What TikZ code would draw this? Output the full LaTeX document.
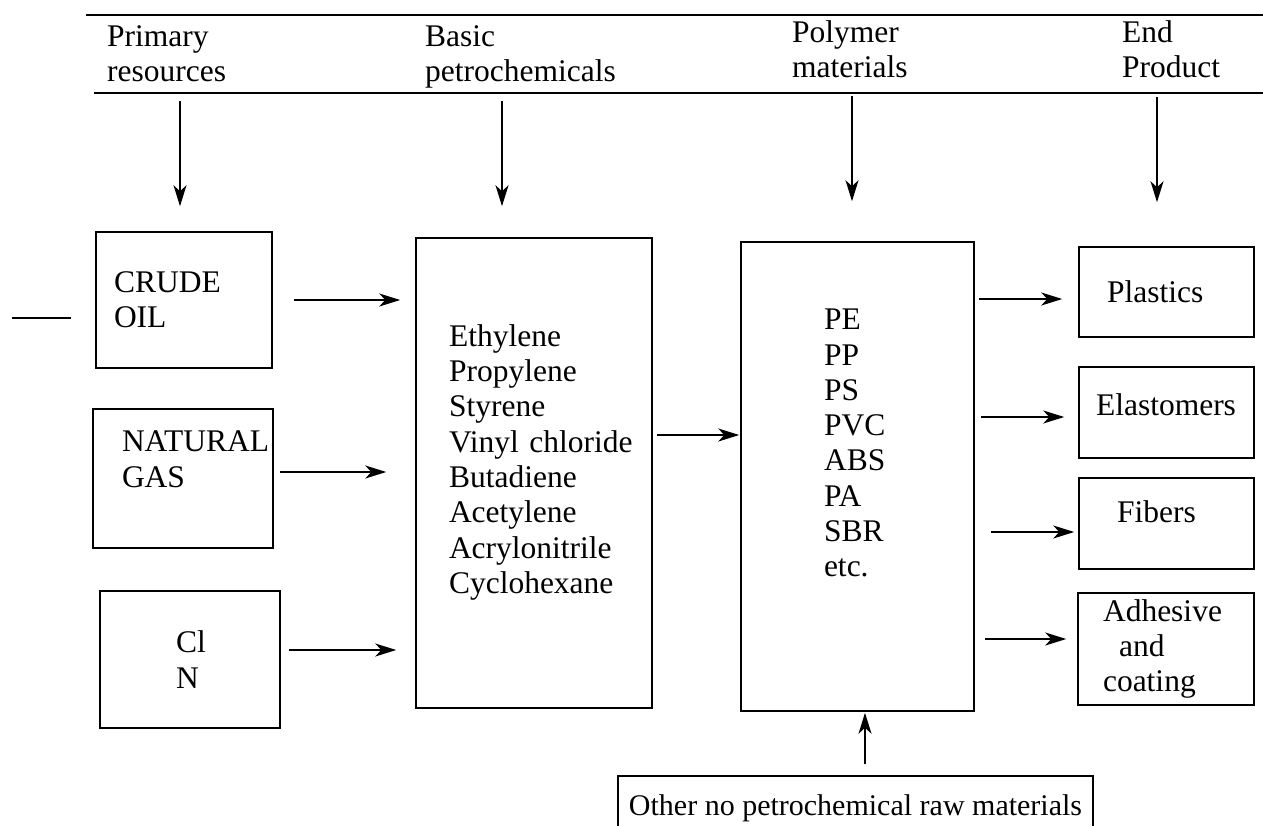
\documentclass[tikz,border=0pt]{standalone}
\usepackage{fontspec}
\setmainfont{Liberation Serif}
\usetikzlibrary{calc,positioning,arrows.meta}
\newcommand{\padbelow}[1]{\rule[-#1]{0pt}{#1}}
\hyphenpenalty=10000
\exhyphenpenalty=10000

\begin{document}
\begin{tikzpicture}[x=1pt,y=-1pt,
  every node/.style={font=\fontsize{31.5}{35.3}\selectfont},
  box/.style={draw,line width=1.5pt,inner sep=0pt,align=left},
  head/.style={anchor=north west,inner sep=0pt,align=left},
  flow/.style={-{Stealth[length=21pt,width=13pt,inset=6pt]},line width=1.5pt}]
  \useasboundingbox (0,0) rectangle (1263,825);
  \draw[line width=1.6pt] (86,15) -- (1263,15);
  \coordinate (rule) at (94,93);
  \draw[line width=1.6pt] (rule) -- (1263,93);
  \node[head] (hprim) at (107,25.5) {Primary\\resources};
  \node[head] (hbasic) at (425,25.5) {Basic\\petrochemicals};
  \node[head] (hpoly) at (792,20.5) {Polymer\\materials};
  \node[head] (hend) at (1122,20.5) {End\\Product};
  \node[box,minimum width=176pt,minimum height=136pt,text width=140pt] (crude) at (184,300) {CRUDE\\OIL};
  \node[box,minimum width=180pt,minimum height=139pt,text width=122pt] (gas) at (183,478.5) {NATURAL\\GAS\padbelow{39pt}};
  \node[box,minimum width=180pt,minimum height=137pt,text width=28pt] (cl) at (190,659.5) {Cl\\N};
  \node[box,minimum width=236pt,minimum height=470pt,text width=170pt] (basic) at (534,473) {Ethylene\\Propylene\\Styrene\\Vinyl~chloride\\Butadiene\\Acetylene\\Acrylonitrile\\Cyclohexane\padbelow{28pt}};
  \node[box,minimum width=233pt,minimum height=469pt,text width=67pt] (polymer) at (857.5,476.5) {PE\\PP\\PS\\PVC\\ABS\\PA\\SBR\\etc.\padbelow{67pt}};
  \node[box,minimum width=175pt,minimum height=90pt,text width=119pt] (plastics) at (1166.5,292) {Plastics};
  \node[box,minimum width=175pt,minimum height=91pt,text width=141pt] (elast) at (1166.5,412.5) {Elastomers\padbelow{16pt}};
  \node[box,minimum width=175pt,minimum height=91pt,text width=99pt] (fibers) at (1166.5,523.5) {Fibers\padbelow{24pt}};
  \node[box,minimum width=176pt,minimum height=112pt,text width=126pt] (adhes) at (1166,649) {Adhesive\\\hspace*{16pt}and\\coating};
  \node[box,minimum width=475pt,minimum height=64pt,font=\fontsize{30}{35}\selectfont] (other) at (855.5,808) {Other no petrochemical raw materials};
  \draw[flow,shorten <=8pt,shorten >=25pt] ([xshift=-4pt]crude.north |- rule) -- ([xshift=-4pt]crude.north);
  \draw[flow,shorten <=8pt,shorten >=31pt] ([xshift=-32pt]basic.north |- rule) -- ([xshift=-32pt]basic.north);
  \draw[flow,shorten <=3pt,shorten >=40pt] ([xshift=-5.5pt]polymer.north |- rule) -- ([xshift=-5.5pt]polymer.north);
  \draw[flow,shorten <=4pt,shorten >=44pt] ([xshift=-9.5pt]plastics.north |- rule) -- ([xshift=-9.5pt]plastics.north);
  \coordinate (stub) at (12,318);
  \draw[line width=1.5pt,shorten >=24pt] (stub) -- (stub -| crude.west);
  \draw[flow,shorten <=21pt,shorten >=15pt] (crude.east) -- (crude.east -| basic.west);
  \draw[flow,shorten <=6pt,shorten >=29pt] ([yshift=6.5pt]gas.east) -- ([yshift=6.5pt]gas.east -| basic.west);
  \draw[flow,shorten <=8pt,shorten >=19pt] ([yshift=9.5pt]cl.east) -- ([yshift=9.5pt]cl.east -| basic.west);
  \draw[flow,shorten <=4pt,shorten >=1pt] ([yshift=38pt]basic.east) -- ([yshift=38pt]basic.east -| polymer.west);
  \draw[flow,shorten <=4pt,shorten >=16pt] ([yshift=-7pt]plastics.west -| polymer.east) -- ([yshift=-7pt]plastics.west);
  \draw[flow,shorten <=6pt,shorten >=14pt] ([yshift=-4.5pt]elast.west -| polymer.east) -- ([yshift=-4.5pt]elast.west);
  \draw[flow,shorten <=16pt,shorten >=4pt] ([yshift=-8.5pt]fibers.west -| polymer.east) -- ([yshift=-8.5pt]fibers.west);
  \draw[flow,shorten <=10pt,shorten >=11pt] ([yshift=10pt]adhes.west -| polymer.east) -- ([yshift=10pt]adhes.west);
  \draw[flow,shorten <=11pt,shorten >=1pt] ([xshift=9.5pt]other.north) -- ([xshift=9.5pt]other.north |- polymer.south);
\end{tikzpicture}
\end{document}
